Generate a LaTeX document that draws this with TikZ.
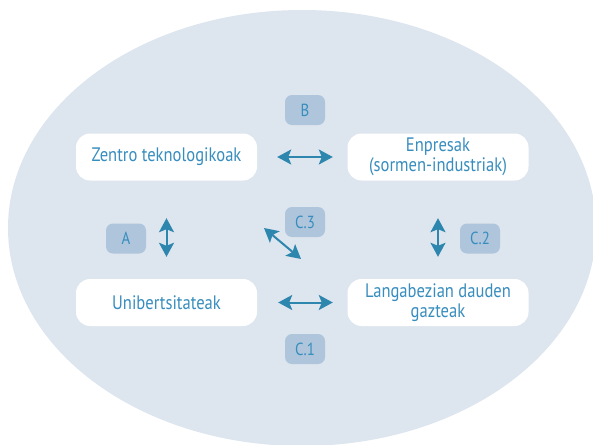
\documentclass[tikz,border=0pt]{standalone}
\usepackage{fontspec}
\setmainfont[FakeStretch=0.85]{PT Sans}
\usepackage{tikz}
\usetikzlibrary{arrows.meta,positioning}
\definecolor{oval}{RGB}{221,229,238}
\definecolor{tagfill}{RGB}{174,197,219}
\definecolor{ink}{RGB}{55,141,190}
\definecolor{arrowc}{RGB}{45,134,174}

\begin{document}
\begin{tikzpicture}[x=1pt,y=1pt, node distance = 145.5pt,on grid,
    box/.style={fill=white,rounded corners=14pt,minimum width=181pt,minimum height=47pt,
        inner sep=0pt,text=ink,font=\fontsize{19.5}{20}\selectfont,align=center},
    tag/.style={fill=tagfill,rounded corners=7pt,minimum width=40pt,minimum height=30pt,
        inner sep=0pt,text=ink,font=\fontsize{17.5}{18}\selectfont},
    tip/.tip={Stealth[length=14pt,width=15pt,inset=3pt]},
    link/.style={draw=arrowc,line width=2pt,tip-tip}]
    \useasboundingbox (0,0) rectangle (593,-444);
    \fill[oval] (302,-228) ellipse [x radius=294, y radius=218];

    \node[box] (zentro) at (166.5,-157) {Zentro teknologikoak};
    \node[box] (enpresak) [right=271.5pt of zentro] {Enpresak\\(sormen-industriak)};
    \node[box] (unib) [below= of zentro] {Unibertsitateak};
    \node[box] (langab) [below= of enpresak] {Langabezian dauden\\gazteak};

    \node[tag] (tagB) at (305,-110) {B};
    \node[tag] (tagA) at (126,-238.5) {A};
    \node[tag] (tagC3) at (305,-222) {C.3};
    \node[tag] (tagC2) at (480,-238.5) {C.2};
    \node[tag] (tagC1) at (305,-349) {C.1};

    \coordinate (c3a) at (264,-228);
    \coordinate (c3b) at (301,-259);

    \draw[link, shorten <=20pt, shorten >=14.5pt] (zentro.east) -- (enpresak.west);
    \draw[link, shorten <=21pt, shorten >=14.5pt] (unib.east) -- (langab.west);
    \draw[link, shorten <=37.5pt, shorten >=22pt] (zentro.south) -- (unib.north);
    \draw[link, shorten <=37.5pt, shorten >=22pt] (enpresak.south) -- (langab.north);
    \draw[link] (c3a) -- (c3b);
\end{tikzpicture}
\end{document}
